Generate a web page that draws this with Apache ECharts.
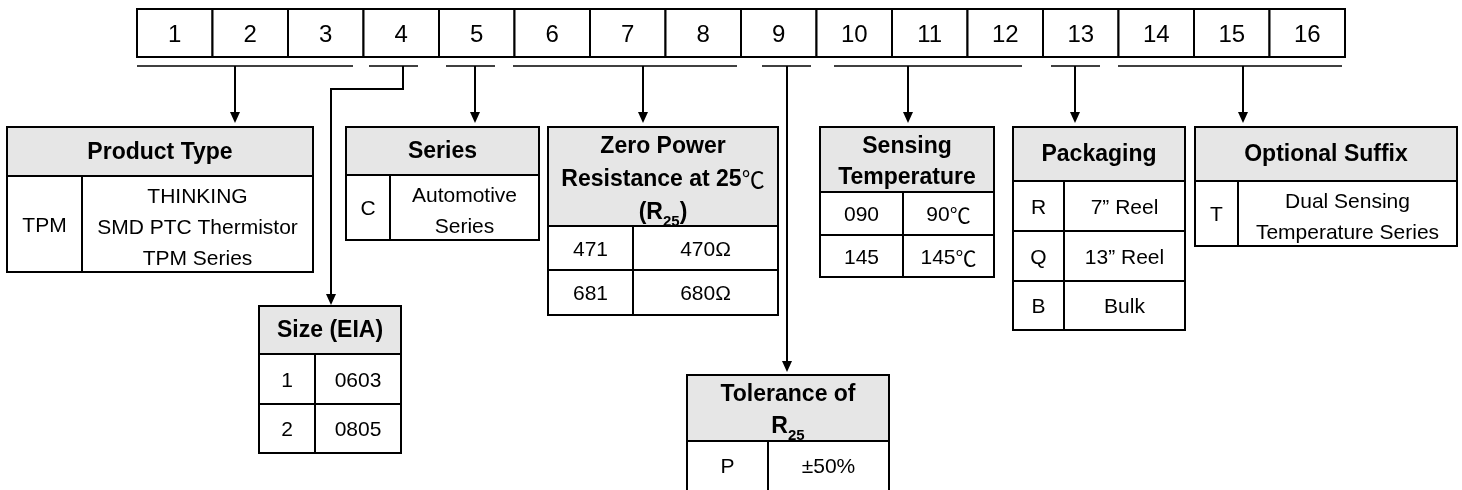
<!DOCTYPE html>
<html>
<head>
<meta charset="utf-8">
<script src="https://cdn.jsdelivr.net/npm/echarts@6/dist/echarts.min.js"></script>
<style>
  html, body { margin: 0; padding: 0; background: #fff; }
  #chart { width: 1462px; height: 490px; }
</style>
</head>
<body>
<div id="chart"></div>
<script>
// part number positions
const digits = ['1', '2', '3', '4', '5', '6', '7', '8', '9', '10', '11', '12', '13', '14', '15', '16']

// code fields (R_25 -> R with subscript 25)
const fieldTitles = [
  'Product Type',
  'Size (EIA)',
  'Series',
  'Zero Power\nResistance at 25℃\n(R_25)',
  'Tolerance of\nR_25',
  'Sensing\nTemperature',
  'Packaging',
  'Optional Suffix',
]
const fieldCodes = [['TPM'], ['1', '2'], ['C'], ['471', '681'], ['P'], ['090', '145'], ['R', 'Q', 'B'], ['T']]
const fieldDescs = [
  ['THINKING\nSMD PTC Thermistor\nTPM Series'],
  ['0603', '0805'],
  ['Automotive\nSeries'],
  ['470Ω', '680Ω'],
  ['±50%'],
  ['90℃', '145℃'],
  ['7” Reel', '13” Reel', 'Bulk'],
  ['Dual Sensing\nTemperature Series'],
]

// layout: [left, right, top, headerBottom, codeColumnX, rowBottoms]
const tableBoxes = [
  [7, 313, 127, 176, 82, [272]],
  [259, 401, 306, 354, 315, [404, 453]],
  [346, 539, 127, 175, 390, [240]],
  [548, 778, 127, 226, 633, [270, 315]],
  [687, 889, 375, 441, 768, [505]],
  [820, 994, 127, 192, 903, [235, 277]],
  [1013, 1185, 127, 181, 1064, [231, 281, 330]],
  [1195, 1457, 127, 181, 1238, [246]],
]
const titleLineHeights = [30, 30, 30, 33, 32, 31, 30, 30]
const underlineY = 66
const underlines = [[137, 353], [369, 418], [446, 495], [513, 737], [762, 811], [834, 1022], [1051, 1100], [1118, 1342]]
const leaders = [
  [[235, 66], [235, 123]],
  [[403, 66], [403, 89], [331, 89], [331, 305]],
  [[475, 66], [475, 123]],
  [[643, 66], [643, 123]],
  [[787, 66], [787, 372]],
  [[908, 66], [908, 123]],
  [[1075, 66], [1075, 123]],
  [[1243, 66], [1243, 123]],
]

const FONT = "'Liberation Sans', Arial, 'Noto Sans CJK SC', sans-serif"
const CJK = "'Noto Sans CJK SC', sans-serif"
const chart = echarts.init(document.getElementById('chart'))

const textEl = (x, y, str, size, bold, lh) => ({
  type: 'text',
  x: x,
  y: y,
  style: {
    text: str.replace(/_(\d+)/g, '{s|$1}').replace(/℃/g, '{c|℃}'),
    font: (bold ? 'bold ' : '') + size + 'px ' + FONT,
    fill: '#000',
    align: 'center',
    verticalAlign: 'middle',
    lineHeight: lh,
    rich: {
      s: { fontFamily: FONT, fontWeight: 'bold', fontSize: 15, lineHeight: 25, verticalAlign: 'bottom' },
      c: { fontFamily: CJK, fontWeight: 'normal', fontSize: size, lineHeight: lh },
    },
  },
})

const lineEl = (x1, y1, x2, y2, w) => ({
  type: 'line',
  shape: { x1: x1, y1: y1, x2: x2, y2: y2 },
  style: { stroke: '#000', lineWidth: w },
})

const buildGraphics = () => {
  const els = []

  // underlines + leader arrows
  underlines.forEach((u) => els.push(lineEl(u[0], underlineY, u[1], underlineY, 1.5)))
  leaders.forEach((pts) => {
    const tip = pts[pts.length - 1]
    const path = pts.slice(0, -1).concat([[tip[0], tip[1] - 9]])
    els.push({ type: 'polyline', shape: { points: path }, style: { stroke: '#000', lineWidth: 2, fill: null } })
    els.push({
      type: 'polygon',
      shape: { points: [[tip[0], tip[1]], [tip[0] - 5, tip[1] - 11], [tip[0] + 5, tip[1] - 11]] },
      style: { fill: '#000' },
    })
  })

  // tables
  tableBoxes.forEach((b, i) => {
    const [left, right, top, hb, col, rows] = b
    const bottom = rows[rows.length - 1]
    els.push({
      type: 'rect',
      shape: { x: left, y: top, width: right - left, height: hb - top },
      style: { fill: '#e6e6e6' },
    })
    els.push({
      type: 'rect',
      shape: { x: left, y: top, width: right - left, height: bottom - top },
      style: { fill: null, stroke: '#000', lineWidth: 2 },
    })
    els.push(lineEl(left, hb, right, hb, 2))
    els.push(lineEl(col, hb, col, bottom, 2))
    const multiTitle = fieldTitles[i].indexOf('\n') >= 0
    els.push(textEl((left + right) / 2, (top + hb) / 2 + (multiTitle ? 3 : 1), fieldTitles[i], 23, true, titleLineHeights[i]))
    let prev = hb
    rows.forEach((rb, r) => {
      if (r < rows.length - 1) els.push(lineEl(left, rb, right, rb, 2))
      const desc = fieldDescs[i][r]
      const yMid = (i === 4 ? (prev + 490) / 2 : (prev + rb) / 2) + (desc.indexOf('\n') >= 0 ? 4 : 2)
      els.push(textEl((left + col) / 2, yMid - (desc.indexOf('\n') >= 0 ? 2 : 0), fieldCodes[i][r], 21, false, 31))
      els.push(textEl((col + right) / 2, yMid, desc, 21, false, 31))
      prev = rb
    })
  })
  return els
}

const option = {
  animation: false,
  grid: { left: 137, right: 117, top: 9, height: 48 },
  xAxis: { type: 'category', data: digits, show: false },
  yAxis: { type: 'value', min: 0, max: 1, show: false },
  series: [
    {
      type: 'custom',
      data: digits.map((d, i) => [i, 0.5]),
      encode: { x: 0, y: 1 },
      renderItem: (params, api) => {
        const c = api.coord([api.value(0), api.value(1)])
        const w = api.size([1, 0])[0]
        const h = api.size([0, 1])[1]
        return {
          type: 'group',
          children: [
            {
              type: 'rect',
              shape: { x: c[0] - w / 2, y: c[1] - h / 2, width: w, height: h },
              style: { fill: '#fff', stroke: '#000', lineWidth: 2 },
            },
            {
              type: 'text',
              x: c[0],
              y: c[1] + 2,
              style: {
                text: digits[params.dataIndex],
                font: '24px ' + FONT,
                fill: '#000',
                align: 'center',
                verticalAlign: 'middle',
              },
            },
          ],
        }
      },
    },
  ],
  graphic: buildGraphics(),
}

chart.setOption(option)
window.addEventListener('resize', () => chart.resize())
</script>
</body>
</html>
